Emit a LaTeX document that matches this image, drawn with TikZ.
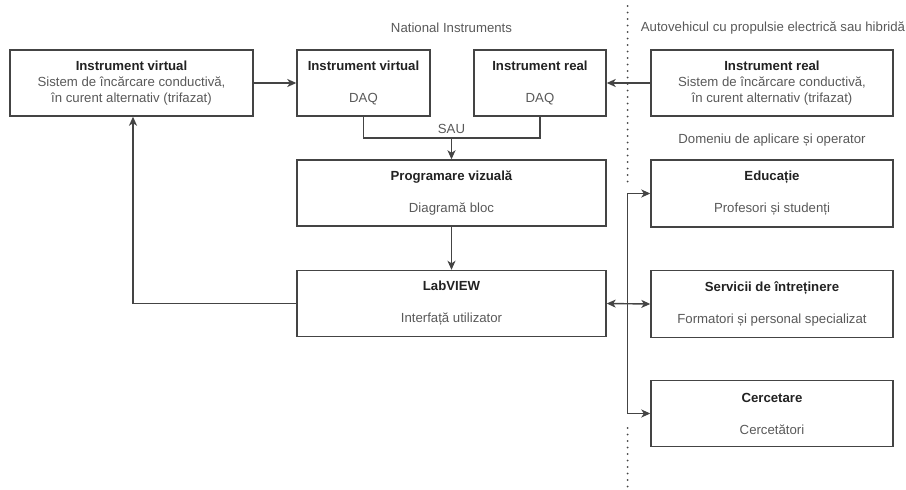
\documentclass[tikz,border=0pt]{standalone}
\usepackage{fontspec}
\setmainfont{Liberation Sans}
\usepackage{tikz}
\usetikzlibrary{arrows.meta,positioning}

\definecolor{linegray}{HTML}{444444}
\definecolor{subgray}{HTML}{595959}
\definecolor{titlegray}{HTML}{222222}

\begin{document}
\begin{tikzpicture}[x=1pt,y=-1pt,
                    font=\fontsize{13.2}{16}\selectfont,
                    block/.style={draw=linegray,line width=1.4pt,minimum height=66pt,align=center,inner sep=0pt,text=titlegray},
                    caption/.style={text=subgray,inner sep=0pt},
                    conn/.style={draw=linegray,line width=1.4pt,-{Stealth[length=9pt,width=8pt,inset=2.5pt]}},
                    sep/.style={draw=linegray,line width=2pt,line cap=round,dash pattern=on 0pt off 6.5pt}]
    \useasboundingbox (0,0) rectangle (906,490);

    % laboratorul virtual
    \node[block,minimum width=243pt] (vi) at (131.5,83)
        {\textbf{Instrument virtual}\\ \textcolor{subgray}{Sistem de încărcare conductivă,}\\ \textcolor{subgray}{în curent alternativ (trifazat)}};

    % National Instruments
    \node[caption] (ni) at (451.5,28) {National Instruments};
    \node[block,minimum width=133pt] (vdaq) at (363.5,83)
        {\textbf{Instrument virtual}\\[16pt] \textcolor{subgray}{DAQ}};
    \node[block,minimum width=132pt] (rdaq) at (540,83)
        {\textbf{Instrument real}\\[16pt] \textcolor{subgray}{DAQ}};
    \node[block,minimum width=309pt] (prog) at (451.5,193)
        {\textbf{Programare vizuală}\\[16pt] \textcolor{subgray}{Diagramă bloc}};
    \node[block,minimum width=309pt] (lv) at (451.5,303.5)
        {\textbf{LabVIEW}\\[16pt] \textcolor{subgray}{Interfață utilizator}};
    \coordinate (sau) at (451.5,138);
    \node[caption,above=4pt of sau] (saulbl) {SAU};

    % autovehiculul
    \node[caption] (auto) at (773,28) {Autovehicul cu propulsie electrică sau hibridă};
    \node[block,minimum width=242pt] (ireal) at (772,83)
        {\textbf{Instrument real}\\ \textcolor{subgray}{Sistem de încărcare conductivă,}\\ \textcolor{subgray}{în curent alternativ (trifazat)}};

    % domenii
    \node[caption] (dom) at (772,140) {Domeniu de aplicare și operator};
    \node[block,minimum width=242pt,minimum height=67pt] (edu) at (772,193.5)
        {\textbf{Educație}\\[16pt] \textcolor{subgray}{Profesori și studenți}};
    \node[block,minimum width=242pt,minimum height=67pt] (serv) at (772,304)
        {\textbf{Servicii de întreținere}\\[16pt] \textcolor{subgray}{Formatori și personal specializat}};
    \node[block,minimum width=242pt,minimum height=66pt] (cerc) at (772,413.5)
        {\textbf{Cercetare}\\[16pt] \textcolor{subgray}{Cercetători}};

    % separator
    \draw[sep] (627.5,6) -- (627.5,184);
    \draw[sep] (627.5,428) -- (627.5,490);

    % legaturi
    \draw[conn] (vi) -- (vdaq);
    \draw[conn] (ireal) -- (rdaq);
    \draw[draw=linegray,line width=1.4pt] (vdaq.south) |- (sau) -| (rdaq.south);
    \draw[conn] (sau) -- (prog);
    \draw[conn] (prog) -- (lv);
    \draw[conn] (lv.west) -| ([xshift=1.5pt]vi.south);
    \coordinate (bus) at (627.5,304);
    \draw[conn,{Stealth[length=9pt,width=8pt,inset=2.5pt]}-{Stealth[length=9pt,width=8pt,inset=2.5pt]}] (lv.east) -- (serv.west);
    \draw[conn] (bus) |- (edu.west);
    \draw[conn] (bus) |- (cerc.west);
\end{tikzpicture}
\end{document}
